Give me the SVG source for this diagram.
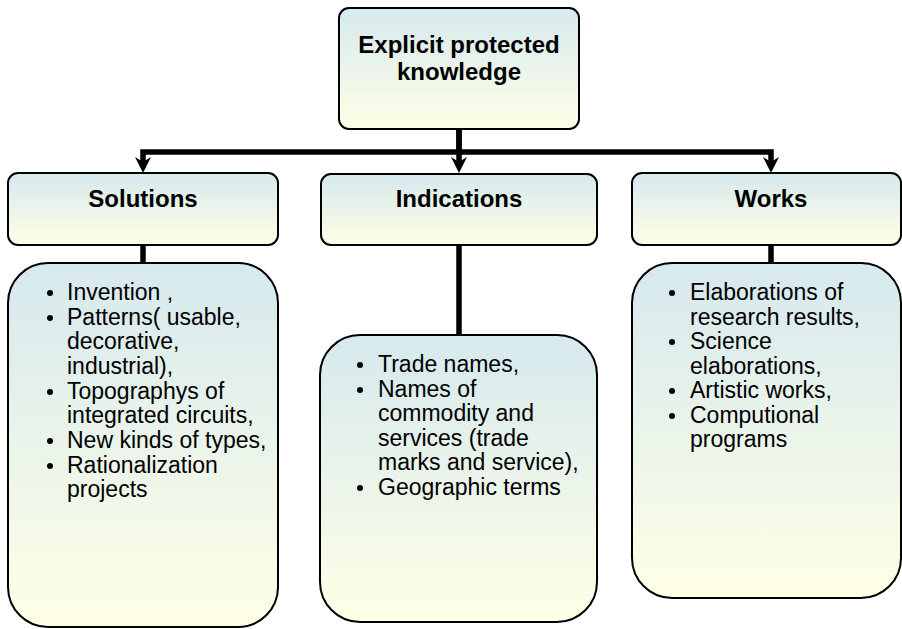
<svg xmlns="http://www.w3.org/2000/svg" width="902" height="629" viewBox="0 0 902 629">
  <defs>
    <linearGradient id="fill" x1="0" y1="0" x2="0" y2="1">
      <stop offset="0" stop-color="#D6E9EE"/>
      <stop offset="1" stop-color="#FFFFE6"/>
    </linearGradient>
    <marker id="arrow" viewBox="0 -9 17 18" markerWidth="17" markerHeight="18" refX="6" refY="0" orient="auto" markerUnits="userSpaceOnUse">
      <path d="M0,-8 L16,0 L0,8 L5,0 Z" fill="#000"/>
    </marker>
  </defs>
  <style>
    .box { fill: url(#fill); stroke: #000; stroke-width: 2; }
    .head { font-family: "Liberation Sans", Arial, sans-serif; font-weight: bold; font-size: 24px; fill: #000; text-anchor: middle; }
    .item { font-family: "Liberation Sans", Arial, sans-serif; font-size: 23px; fill: #000; }
    .wire { fill: none; stroke: #000; stroke-width: 5.5; stroke-linejoin: miter; }
    .dot { fill: #000; }
  </style>
  <rect width="902" height="629" fill="#fff"/>

  <g id="connectors">
    <path class="wire" d="M459,129 V152 H143 V163" marker-end="url(#arrow)"/>
    <path class="wire" d="M459,129 V163" marker-end="url(#arrow)"/>
    <path class="wire" d="M459,152 H771 V163" marker-end="url(#arrow)"/>
    <path class="wire" d="M143,245 V264"/>
    <path class="wire" d="M459,245 V336"/>
    <path class="wire" d="M771,245 V264"/>
  </g>

  <g id="root">
    <rect class="box" x="339" y="8" width="240" height="121" rx="10"/>
    <text class="head" x="459" y="53">Explicit protected</text>
    <text class="head" x="459" y="80">knowledge</text>
  </g>

  <g id="solutions">
    <rect class="box" x="8" y="173" width="270" height="72" rx="10"/>
    <text class="head" x="143" y="207">Solutions</text>
  </g>

  <g id="indications">
    <rect class="box" x="321" y="174" width="276" height="71" rx="10"/>
    <text class="head" x="459" y="207">Indications</text>
  </g>

  <g id="works">
    <rect class="box" x="632" y="173" width="269" height="72" rx="10"/>
    <text class="head" x="771" y="207">Works</text>
  </g>

  <g id="solutions-list">
    <rect class="box" x="8" y="263" width="270" height="364" rx="40"/>
    <circle class="dot" cx="50" cy="293" r="3"/>
    <circle class="dot" cx="50" cy="318" r="3"/>
    <circle class="dot" cx="50" cy="392" r="3"/>
    <circle class="dot" cx="50" cy="441" r="3"/>
    <circle class="dot" cx="50" cy="466" r="3"/>
    <text class="item" x="67" y="300">Invention ,</text>
    <text class="item" x="67" y="325">Patterns( usable,</text>
    <text class="item" x="67" y="349">decorative,</text>
    <text class="item" x="67" y="374">industrial),</text>
    <text class="item" x="67" y="399">Topographys of</text>
    <text class="item" x="67" y="423">integrated circuits,</text>
    <text class="item" x="67" y="448">New kinds of types,</text>
    <text class="item" x="67" y="473">Rationalization</text>
    <text class="item" x="67" y="497">projects</text>
  </g>

  <g id="indications-list">
    <rect class="box" x="320" y="335" width="277" height="287" rx="40"/>
    <circle class="dot" cx="360" cy="365" r="3"/>
    <circle class="dot" cx="360" cy="390" r="3"/>
    <circle class="dot" cx="360" cy="488" r="3"/>
    <text class="item" x="378" y="372">Trade names,</text>
    <text class="item" x="378" y="397">Names of</text>
    <text class="item" x="378" y="421">commodity and</text>
    <text class="item" x="378" y="446">services (trade</text>
    <text class="item" x="378" y="470">marks and service),</text>
    <text class="item" x="378" y="495">Geographic terms</text>
  </g>

  <g id="works-list">
    <rect class="box" x="632" y="263" width="269" height="335" rx="40"/>
    <circle class="dot" cx="672" cy="293" r="3"/>
    <circle class="dot" cx="672" cy="342" r="3"/>
    <circle class="dot" cx="672" cy="391" r="3"/>
    <circle class="dot" cx="672" cy="416" r="3"/>
    <text class="item" x="690" y="300">Elaborations of</text>
    <text class="item" x="690" y="325">research results,</text>
    <text class="item" x="690" y="349">Science</text>
    <text class="item" x="690" y="374">elaborations,</text>
    <text class="item" x="690" y="398">Artistic works,</text>
    <text class="item" x="690" y="423">Computional</text>
    <text class="item" x="690" y="447">programs</text>
  </g>
</svg>
